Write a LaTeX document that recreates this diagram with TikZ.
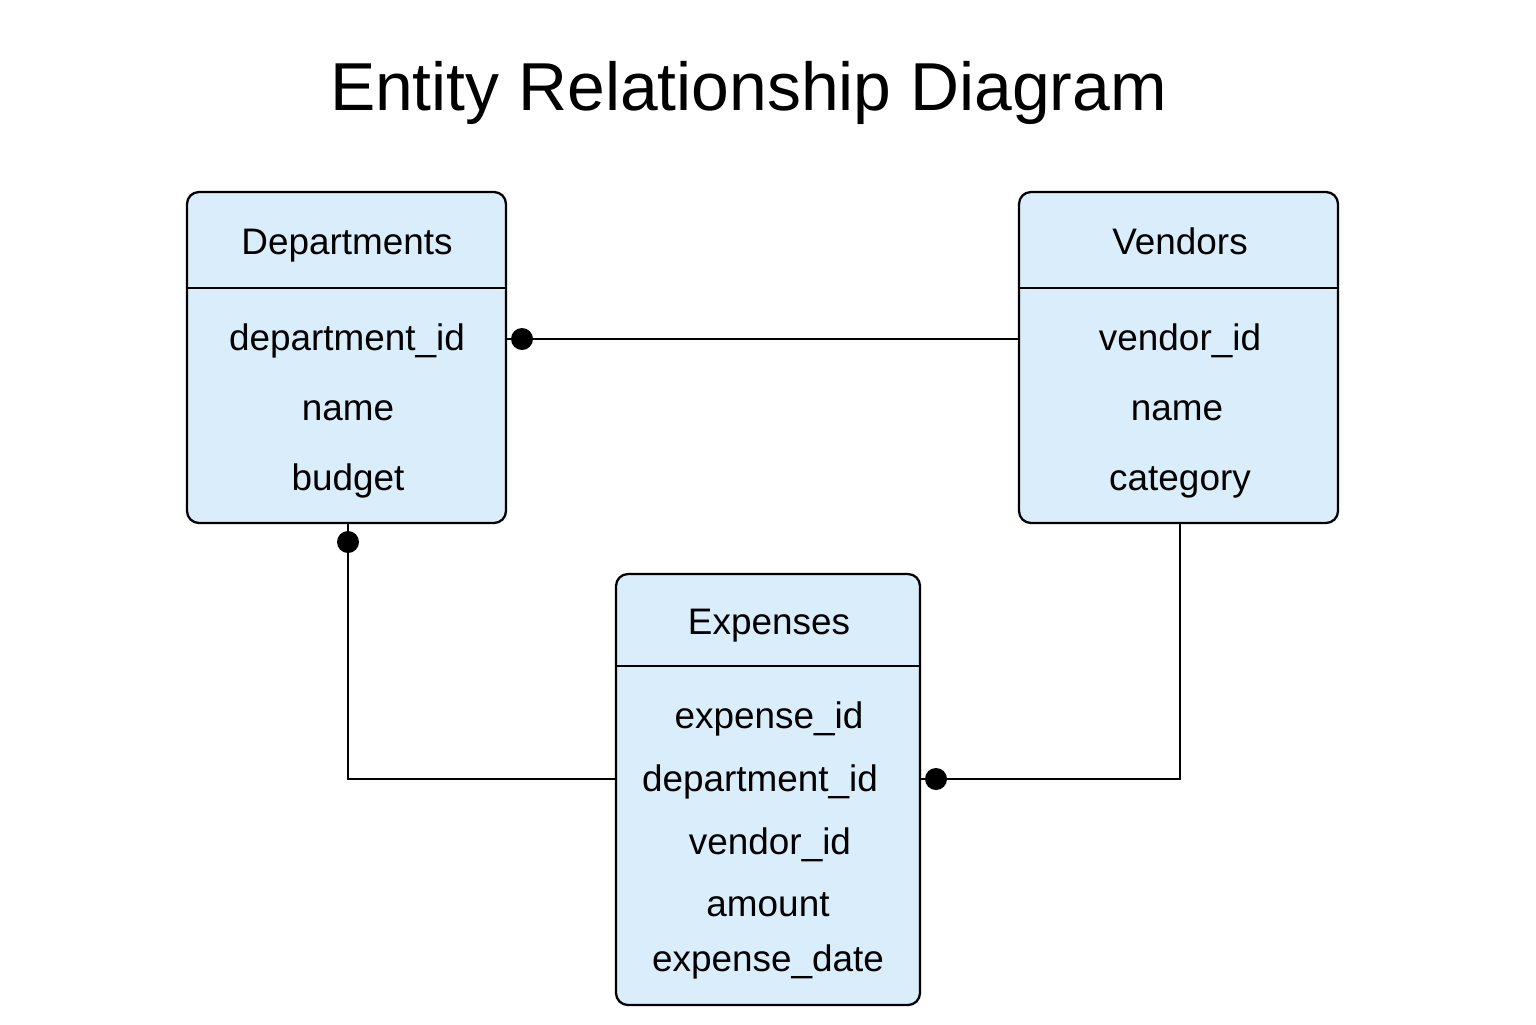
\documentclass[tikz,border=0pt]{standalone}
\usepackage{fontspec}
\setmainfont{Liberation Sans}
\definecolor{entfill}{RGB}{218,237,250}
\begin{document}
\begin{tikzpicture}[
    entity/.style={draw, line width=0.65pt, fill=entfill, rounded corners=0.12cm, inner sep=0pt},
    attr/.style={anchor=base, font=\fontsize{10.5}{12}\selectfont},
    dot/.style={circle, fill=black, inner sep=0pt, minimum size=0.22cm},
    link/.style={line width=0.65pt}]
          \useasboundingbox (0,0) rectangle (15.36,-10.24);
          \node[anchor=base, font=\fontsize{19.3}{22}\selectfont] (title) at (7.485,-1.10) {Entity Relationship Diagram};

          \node[entity, minimum width=3.19cm, minimum height=3.31cm] (dept) at (3.465,-3.575) {};
          \node[entity, minimum width=3.19cm, minimum height=3.31cm] (vend) at (11.785,-3.575) {};
          \node[entity, minimum width=3.04cm, minimum height=4.31cm] (exp) at (7.68,-7.895) {};
          \draw[link] (dept.west |- 0,-2.88) -- (dept.east |- 0,-2.88);
          \draw[link] (vend.west |- 0,-2.88) -- (vend.east |- 0,-2.88);
          \draw[link] (exp.west |- 0,-6.66) -- (exp.east |- 0,-6.66);

          \node[attr] (depttitle) at (3.47,-2.54) {Departments};
          \node[attr] (deptid) at (3.47,-3.50) {department\_id};
          \node[attr] (deptname) at (3.48,-4.20) {name};
          \node[attr] (deptbudget) at (3.48,-4.90) {budget};

          \node[attr] (vendtitle) at (11.80,-2.54) {Vendors};
          \node[attr] (vendid) at (11.80,-3.50) {vendor\_id};
          \node[attr] (vendname) at (11.77,-4.20) {name};
          \node[attr] (vendcat) at (11.80,-4.90) {category};

          \node[attr] (exptitle) at (7.69,-6.34) {Expenses};
          \node[attr] (expid) at (7.69,-7.28) {expense\_id};
          \node[attr] (expdept) at (7.60,-7.91) {department\_id};
          \node[attr] (expvend) at (7.70,-8.54) {vendor\_id};
          \node[attr] (expamount) at (7.68,-9.16) {amount};
          \node[attr] (expdate) at (7.68,-9.71) {expense\_date};

          % relationships
          \node[dot] (d1) at (5.22,-3.39) {};
          \node[dot] (d2) at (3.48,-5.42) {};
          \node[dot] (d3) at (9.36,-7.79) {};
          \coordinate (vfoot) at (11.80,-5.23);
          \draw[link] (dept.east |- d1) -- (vend.west |- d1);
          \draw[link] (d2 |- dept.south) |- (exp.west |- d3);
          \draw[link] (vfoot) |- (exp.east |- d3);
\end{tikzpicture}
\end{document}
